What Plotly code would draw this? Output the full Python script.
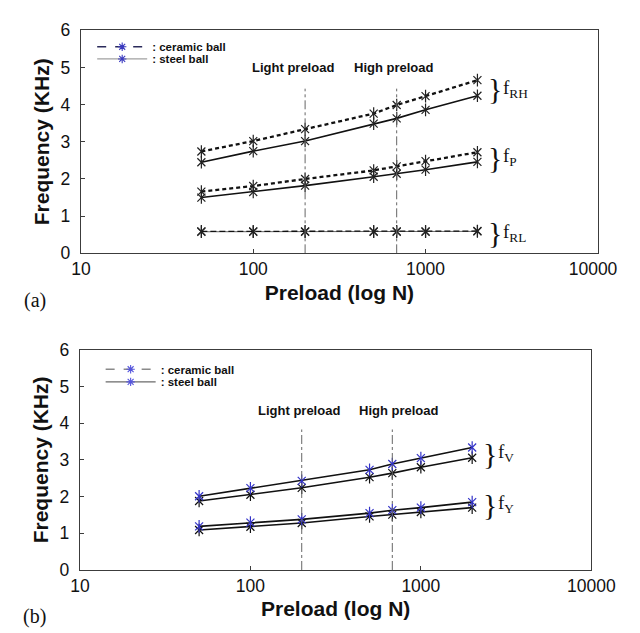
import numpy as np
import plotly.graph_objects as go

# ---------------- data ----------------
preload = [50, 100, 200, 500, 680, 1000, 2000]
light_preload = 200
high_preload = 680

# panel (a)
ceramic_RH = [2.74, 3.02, 3.34, 3.76, 3.99, 4.23, 4.66]
steel_RH = [2.45, 2.75, 3.02, 3.49, 3.63, 3.86, 4.24]
ceramic_P = [1.66, 1.81, 2.00, 2.23, 2.34, 2.48, 2.72]
steel_P = [1.50, 1.65, 1.82, 2.06, 2.14, 2.25, 2.46]
ceramic_RL = [0.59, 0.59, 0.59, 0.59, 0.59, 0.59, 0.60]
steel_RL = [0.58, 0.58, 0.58, 0.58, 0.58, 0.58, 0.59]

# panel (b)
ceramic_V = [2.01, 2.23, 2.43, 2.73, 2.89, 3.05, 3.34]
steel_V = [1.88, 2.05, 2.24, 2.53, 2.64, 2.80, 3.06]
ceramic_Y = [1.19, 1.29, 1.38, 1.55, 1.63, 1.70, 1.85]
steel_Y = [1.09, 1.18, 1.28, 1.46, 1.51, 1.58, 1.70]

x_tickvals = [10, 100, 1000, 10000]
x_ticktext_a = ["10", "100", "1000", "10000\u00a0\u00a0"]
x_ticktext_b = ["10", "100", "1000", "10000"]
y_tickvals = [0, 1, 2, 3, 4, 5, 6]

W, H = 640, 633
SANS = "Liberation Sans, Arial, sans-serif"
SERIF = "Liberation Serif, Times New Roman, serif"
AXC = "#3c3c3c"

fig = go.Figure()

def xmark(color, size=8):
    return dict(symbol="x-thin-open", size=size, color=color,
                line=dict(width=1.2, color=color))

def vmark(color, size=9):
    return dict(symbol="line-ns-open", size=size, color=color,
                line=dict(width=1.2, color=color))

def add(x, y, xa, ya, dash, mcolor, lcolor="#111111", lw=1.6):
    fig.add_trace(go.Scatter(
        x=x, y=y, xaxis=xa, yaxis=ya, mode="lines+markers",
        line=dict(color=lcolor, width=lw, dash=dash),
        marker=xmark(mcolor), showlegend=False, hoverinfo="skip"))
    fig.add_trace(go.Scatter(
        x=x, y=y, xaxis=xa, yaxis=ya, mode="markers",
        marker=vmark(mcolor), showlegend=False, hoverinfo="skip"))

DASH_A = "4px,3px"
# ---- panel (a) ----
add(preload, steel_RL, "x", "y", "solid", "#222222", "#666666", 1.0)
add(preload, ceramic_RL, "x", "y", "6px,3px", "#222222", "#111111", 1.3)
add(preload, steel_RH, "x", "y", "solid", "#222222")
add(preload, ceramic_RH, "x", "y", DASH_A, "#222222", "#111111", 2.3)
add(preload, steel_P, "x", "y", "solid", "#222222")
add(preload, ceramic_P, "x", "y", DASH_A, "#222222", "#111111", 2.3)

# ---- panel (b) ----
add(preload, steel_V, "x2", "y2", "solid", "#111111")
add(preload, ceramic_V, "x2", "y2", "solid", "#3434c8")
add(preload, steel_Y, "x2", "y2", "solid", "#111111")
add(preload, ceramic_Y, "x2", "y2", "solid", "#3434c8")

# preload boundary lines
for xa, ya, top in [("x", "y", 4.43), ("x2", "y2", 3.83)]:
    for xv in [light_preload, high_preload]:
        fig.add_trace(go.Scatter(
            x=[xv, xv], y=[0, top], xaxis=xa, yaxis=ya, mode="lines",
            line=dict(color="#666666", width=1, dash="dashdot"),
            showlegend=False, hoverinfo="skip"))

# legend-only entries
leg_specs = [
    ("legend", "x", "y", ": ceramic ball", "dash", "#2a2a5a", "#3a3ac0"),
    ("legend2", "x", "y", ": steel ball", "solid", "#a0a0a0", "#3a3ac0"),
    ("legend3", "x2", "y2", ": ceramic ball", "dash", "#8a8a8a", "#5555dd"),
    ("legend4", "x2", "y2", ": steel ball", "solid", "#6a6a6a", "#5555dd"),
]
for lg, xa, ya, name, dash, lc, mc in leg_specs:
    fig.add_trace(go.Scatter(
        x=[None], y=[None], xaxis=xa, yaxis=ya, mode="lines+markers",
        name=name, legend=lg, showlegend=True,
        line=dict(color=lc, width=1.3, dash=dash),
        marker=dict(symbol="asterisk-open", size=7, color=mc,
                    line=dict(width=1.1, color=mc))))

def leg(xpx, ypx):
    return dict(x=xpx / W, y=1 - ypx / H, xanchor="left", yanchor="middle",
                bgcolor="rgba(0,0,0,0)", borderwidth=0, itemwidth=50,
                font=dict(family=SANS, size=11.5, color="#111111", weight="bold"))

ax_common = dict(showline=True, linecolor=AXC, linewidth=1.3, mirror=True,
                 ticks="inside", ticklen=4, tickcolor=AXC, tickwidth=1.2,
                 showgrid=False, zeroline=False,
                 tickfont=dict(family=SANS, size=17.5, color="#111111"))
xtitle = dict(text="Preload (log N)",
              font=dict(family=SANS, size=21, color="#111111", weight="bold"))
ytitle = dict(text="Frequency (KHz)",
              font=dict(family=SANS, size=21, color="#111111", weight="bold"))

fig.update_layout(
    width=W, height=H, margin=dict(l=0, r=0, t=0, b=0),
    paper_bgcolor="white", plot_bgcolor="white",
    xaxis=dict(ax_common, domain=[67 / W, 617.5 / W], anchor="y", type="log",
               range=[1, 4], tickvals=x_tickvals, ticktext=x_ticktext_a,
               title=dict(xtitle, standoff=6)),
    yaxis=dict(ax_common, domain=[1 - 243 / H, 1 - 12.7 / H], anchor="x",
               range=[0, 6], tickvals=y_tickvals, ticklabelstandoff=6,
               title=dict(ytitle, standoff=5)),
    xaxis2=dict(ax_common, domain=[66 / W, 610.5 / W], anchor="y2", type="log",
                range=[1, 4], tickvals=x_tickvals, ticktext=x_ticktext_b,
                title=dict(xtitle, standoff=6)),
    yaxis2=dict(ax_common, domain=[1 - 570 / H, 1 - 342.7 / H], anchor="x2",
                range=[0, 6], tickvals=y_tickvals, ticklabelstandoff=6,
                title=dict(ytitle, standoff=5)),
    legend=leg(79, 29.7), legend2=leg(79, 42.3),
    legend3=leg(88, 362.7), legend4=leg(88, 375.7),
)

ann = []
lab_font = dict(family=SANS, size=13, color="#111111", weight="bold")
for xr, yr, xc, yc in [("x", "y", [2.23, 2.815], 5.0), ("x2", "y2", [2.284, 2.873], 4.35)]:
    for txt, xv in zip(["Light preload", "High preload"], xc):
        ann.append(dict(x=xv, y=yc, xref=xr, yref=yr, text=txt, showarrow=False,
                        font=lab_font, xanchor="center", yanchor="middle"))

brace_x = np.log10(2240)
label_x = np.log10(2750)
for xr, yr, yc, sub in [("x", "y", 4.43, "RH"), ("x", "y", 2.58, "P"), ("x", "y", 0.55, "RL"),
                         ("x2", "y2", 3.18, "V"), ("x2", "y2", 1.79, "Y")]:
    ann.append(dict(x=brace_x, y=yc, xref=xr, yref=yr, text="}", showarrow=False,
                    font=dict(family=SERIF, size=30, color="#111111"),
                    xanchor="left", yanchor="middle"))
    ann.append(dict(x=label_x, y=yc, xref=xr, yref=yr, text="f<sub>" + sub + "</sub>",
                    showarrow=False, font=dict(family=SERIF, size=19, color="#111111"),
                    xanchor="left", yanchor="middle"))

for txt, ypx in [("(a)", 292), ("(b)", 618)]:
    ann.append(dict(x=18 / W, y=1 - ypx / H, xref="paper", yref="paper", text=txt,
                    showarrow=False, font=dict(family=SERIF, size=20, color="#111111"),
                    xanchor="center", yanchor="middle"))

fig.update_layout(annotations=ann)

fig.write_html("out.html")
